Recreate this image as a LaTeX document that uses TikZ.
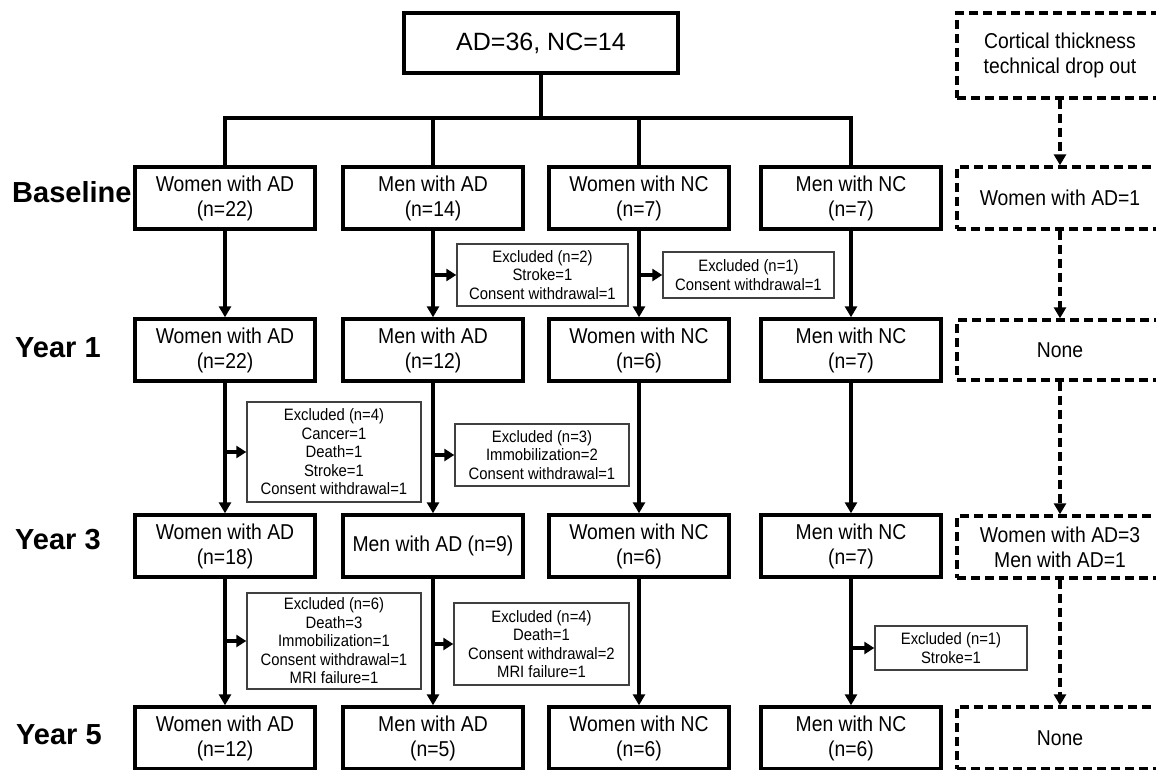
\documentclass[tikz,border=0pt]{standalone}
\usepackage{fontspec}
\setmainfont[FakeStretch=0.9]{Liberation Sans}
\newfontfamily\rowfont{Liberation Sans}
\usetikzlibrary{arrows.meta,positioning}

\tikzset{
  grp/.style={draw, line width=3.4pt, minimum width=180pt, minimum height=62pt, inner sep=0pt, align=center, font=\fontsize{21.5}{25}\selectfont},
  drop/.style={grp, dash pattern=on 9pt off 5pt, minimum width=206pt},
  excl/.style={draw=black!75, line width=1.4pt, inner sep=0pt, align=center, font=\fontsize{16.5}{18.5}\selectfont},
  row/.style={anchor=west, inner sep=0pt, font=\rowfont\bfseries\fontsize{29}{33}\selectfont},
  conn/.style={line width=3.4pt},
  flow/.style={line width=3.4pt, -{Triangle[length=11pt,width=12pt]}},
  side/.style={line width=3.4pt, -{Triangle[length=10pt,width=12pt]}},
  dflow/.style={line width=3.4pt, dash pattern=on 9pt off 5pt, -{Triangle[length=11pt,width=12pt]}}
}

\begin{document}
\begin{tikzpicture}[x=1pt,y=-1pt]
\useasboundingbox (0,0) rectangle (1156,770);

%top
\node[draw, line width=3.4pt, minimum width=274pt, minimum height=60pt, inner sep=0pt, font=\rowfont\fontsize{25}{30}\selectfont] (all) at (541,43) {AD=36, NC=14};
\coordinate (split) at (541,118);

%row labels
\node[row] (lbase) at (12,192) {Baseline};
\node[row] (lone) at (15,348) {Year 1};
\node[row] (lthree) at (15,540) {Year 3};
\node[row] (lfive) at (16,735) {Year 5};

%Baseline
\node[grp] (base1) at (225,198) {Women with AD\\(n=22)};
\node[grp] (base2) at (433,198) {Men with AD\\(n=14)};
\node[grp] (base3) at (639,198) {Women with NC\\(n=7)};
\node[grp] (base4) at (851,198) {Men with NC\\(n=7)};

%Year 1
\node[grp] (one1) at (225,350) {Women with AD\\(n=22)};
\node[grp] (one2) at (433,350) {Men with AD\\(n=12)};
\node[grp] (one3) at (639,350) {Women with NC\\(n=6)};
\node[grp] (one4) at (851,350) {Men with NC\\(n=7)};

%Year 3
\node[grp] (three1) at (225,546) {Women with AD\\(n=18)};
\node[grp] (three2) at (433,546) {Men with AD (n=9)};
\node[grp] (three3) at (639,546) {Women with NC\\(n=6)};
\node[grp] (three4) at (851,546) {Men with NC\\(n=7)};

%Year 5
\node[grp] (five1) at (225,738) {Women with AD\\(n=12)};
\node[grp] (five2) at (433,738) {Men with AD\\(n=5)};
\node[grp] (five3) at (639,738) {Women with NC\\(n=6)};
\node[grp] (five4) at (851,738) {Men with NC\\(n=6)};

%technical drop out
\node[drop, minimum height=85pt] (tech) at (1060,55.5) {Cortical thickness\\technical drop out};
\node[drop] (techbase) at (1060,198) {Women with AD=1};
\node[drop, minimum height=60pt] (techone) at (1060,350) {None};
\node[drop] (techthree) at (1060,547) {Women with AD=3\\Men with AD=1};
\node[drop] (techfive) at (1060,738) {None};

%excluded
\node[excl, minimum width=171pt, minimum height=62pt] (exb2) at (542.5,275) {Excluded (n=2)\\Stroke=1\\Consent withdrawal=1};
\node[excl, minimum width=171pt, minimum height=46pt] (exb3) at (748.5,275) {Excluded (n=1)\\Consent withdrawal=1};
\node[excl, minimum width=174pt, minimum height=100pt] (exone1) at (334,452) {Excluded (n=4)\\Cancer=1\\Death=1\\Stroke=1\\Consent withdrawal=1};
\node[excl, minimum width=174pt, minimum height=62pt] (exone2) at (542,455) {Excluded (n=3)\\Immobilization=2\\Consent withdrawal=1};
\node[excl, minimum width=174pt, minimum height=96pt] (exthree1) at (334,641) {Excluded (n=6)\\Death=3\\Immobilization=1\\Consent withdrawal=1\\MRI failure=1};
\node[excl, minimum width=175pt, minimum height=82pt] (exthree2) at (541.5,644) {Excluded (n=4)\\Death=1\\Consent withdrawal=2\\MRI failure=1};
\node[excl, minimum width=152pt, minimum height=44pt] (exthree4) at (951,648) {Excluded (n=1)\\Stroke=1};

%split
\draw[conn] (all.south) -- (split);
\draw[conn] (base1.north) -- (base1.north |- split) -- (base4.north |- split) -- (base4.north);
\draw[conn] (base2.north) -- (base2.north |- split);
\draw[conn] (base3.north) -- (base3.north |- split);

%follow up
\foreach \c in {1,2,3,4} {
  \draw[flow] (base\c.south) -- (one\c.north);
  \draw[flow] (one\c.south) -- (three\c.north);
  \draw[flow] (three\c.south) -- (five\c.north);
}
\draw[dflow] (tech.south) -- (techbase.north);
\draw[dflow] (techbase.south) -- (techone.north);
\draw[dflow] (techone.south) -- (techthree.north);
\draw[dflow] (techthree.south) -- (techfive.north);

%to excluded
\draw[side] (base2.south |- exb2.west) -- (exb2.west);
\draw[side] (base3.south |- exb3.west) -- (exb3.west);
\draw[side] (one1.south |- exone1.west) -- (exone1.west);
\draw[side] (one2.south |- exone2.west) -- (exone2.west);
\draw[side] (three1.south |- exthree1.west) -- (exthree1.west);
\draw[side] (three2.south |- exthree2.west) -- (exthree2.west);
\draw[side] (three4.south |- exthree4.west) -- (exthree4.west);
\end{tikzpicture}
\end{document}
